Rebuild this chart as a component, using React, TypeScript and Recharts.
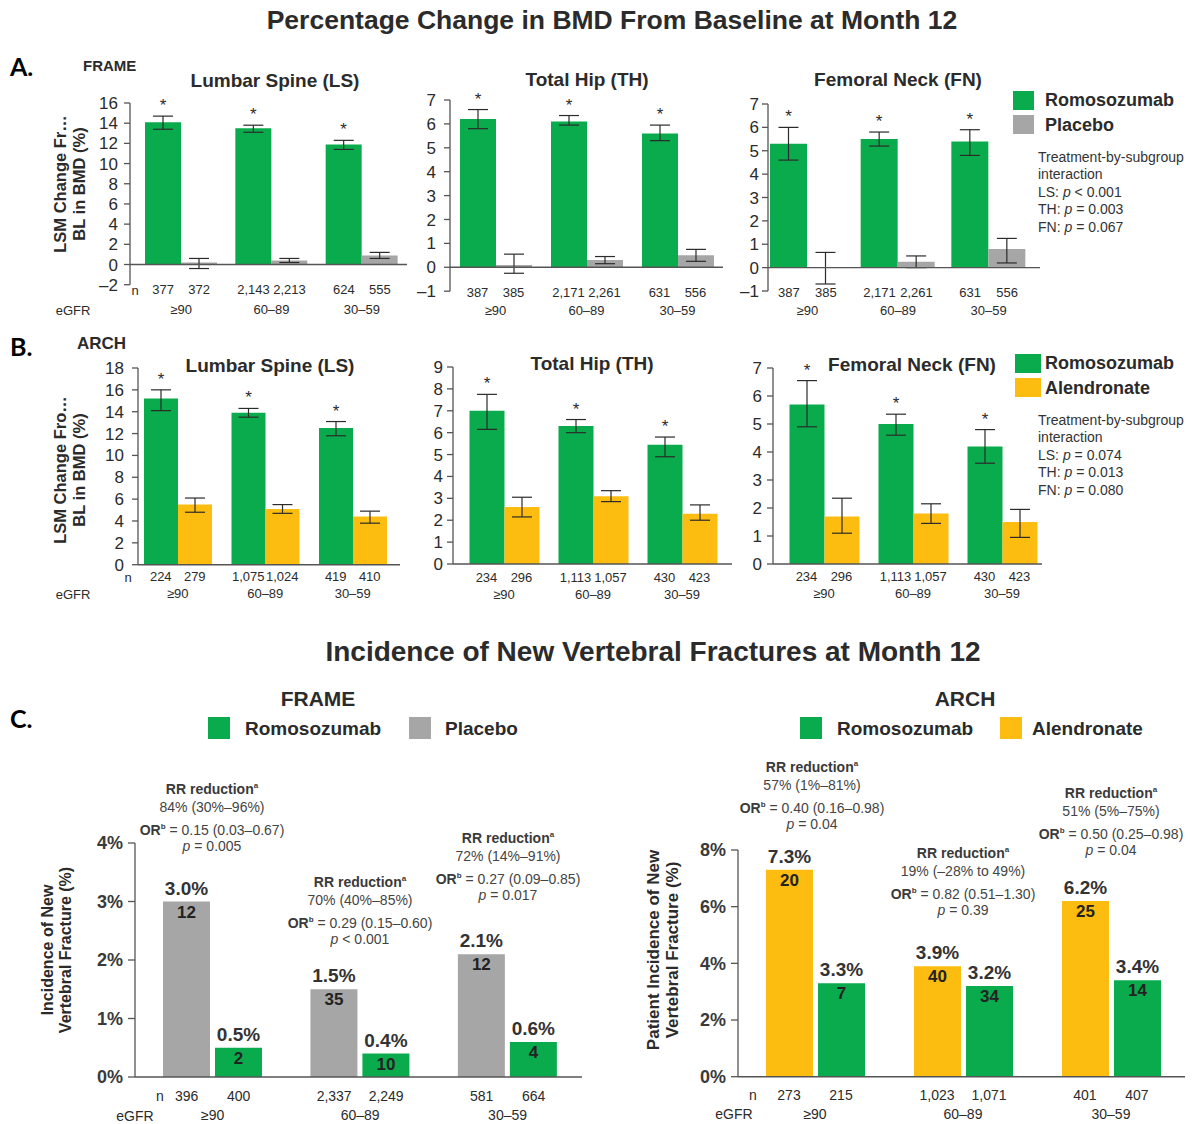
import React from 'react'
import { BarChart, Bar, XAxis, YAxis, ErrorBar, LabelList, ReferenceLine } from 'recharts'

const FONT = 'Arial, "Liberation Sans", Helvetica, sans-serif'
const TAG_FONT = 'Lato, "Open Sans", sans-serif'
const GREEN = '#0aab4c'
const GRAY = '#a6a6a6'
const GOLD = '#fdbd10'
const INK = '#2b2b2b'
const AXIS = '#555'

const egfrGroups = ['≥90', '60–89', '30–59']

// Panel A – FRAME: LSM % change in BMD (bar) with 95% CI [low, high]
const frameLsRomo = [14.1, 13.5, 11.9]
const frameLsRomoCI = [[13.4, 14.7], [13.1, 13.8], [11.4, 12.3]]
const frameLsPbo = [0.2, 0.4, 0.9]
const frameLsPboCI = [[-0.4, 0.6], [0.2, 0.6], [0.6, 1.2]]

const frameThRomo = [6.2, 6.1, 5.6]
const frameThRomoCI = [[5.8, 6.6], [5.95, 6.35], [5.3, 5.95]]
const frameThPbo = [0.1, 0.3, 0.5]
const frameThPboCI = [[-0.25, 0.55], [0.15, 0.45], [0.25, 0.75]]

const frameFnRomo = [5.3, 5.5, 5.4]
const frameFnRomoCI = [[4.6, 6.0], [5.2, 5.8], [4.8, 5.9]]
const frameFnPbo = [0.02, 0.25, 0.8]
const frameFnPboCI = [[-0.7, 0.65], [0.0, 0.5], [0.2, 1.25]]

const frameLsRomoN = ['377', '2,143', '624']
const frameLsPboN = ['372', '2,213', '555']
const frameHipRomoN = ['387', '2,171', '631']
const frameHipPboN = ['385', '2,261', '556']

// Panel B – ARCH
const archLsRomo = [15.2, 13.9, 12.5]
const archLsRomoCI = [[14.1, 16.0], [13.5, 14.3], [11.8, 13.1]]
const archLsAln = [5.5, 5.1, 4.4]
const archLsAlnCI = [[4.8, 6.1], [4.7, 5.5], [3.8, 4.9]]

const archThRomo = [7.0, 6.3, 5.45]
const archThRomoCI = [[6.15, 7.75], [6.0, 6.6], [4.9, 5.8]]
const archThAln = [2.6, 3.1, 2.3]
const archThAlnCI = [[2.15, 3.05], [2.85, 3.35], [2.0, 2.7]]

const archFnRomo = [5.7, 5.0, 4.2]
const archFnRomoCI = [[4.9, 6.55], [4.6, 5.35], [3.6, 4.8]]
const archFnAln = [1.7, 1.8, 1.5]
const archFnAlnCI = [[1.1, 2.35], [1.45, 2.15], [0.95, 1.95]]

const archLsRomoN = ['224', '1,075', '419']
const archLsAlnN = ['279', '1,024', '410']
const archHipRomoN = ['234', '1,113', '430']
const archHipAlnN = ['296', '1,057', '423']

// Panel C – new vertebral fracture incidence (%), patient counts and n
const fxFramePbo = [3.0, 1.5, 2.1]
const fxFramePboCount = [12, 35, 12]
const fxFramePboN = ['396', '2,337', '581']
const fxFrameRomo = [0.5, 0.4, 0.6]
const fxFrameRomoCount = [2, 10, 4]
const fxFrameRomoN = ['400', '2,249', '664']

const fxArchAln = [7.3, 3.9, 6.2]
const fxArchAlnCount = [20, 40, 25]
const fxArchAlnN = ['273', '1,023', '401']
const fxArchRomo = [3.3, 3.2, 3.4]
const fxArchRomoCount = [7, 34, 14]
const fxArchRomoN = ['215', '1,071', '407']

const rrFrame = ['84% (30%–96%)', '70% (40%–85%)', '72% (14%–91%)']
const orFrame = ['0.15 (0.03–0.67)', '0.29 (0.15–0.60)', '0.27 (0.09–0.85)']
const pFrame = ['= 0.005', '< 0.001', '= 0.017']
const rrArch = ['57% (1%–81%)', '19% (–28% to 49%)', '51% (5%–75%)']
const orArch = ['0.40 (0.16–0.98)', '0.82 (0.51–1.30)', '0.50 (0.25–0.98)']
const pArch = ['= 0.04', '= 0.39', '= 0.04']

const ticksFrameLs = [-2, 0, 2, 4, 6, 8, 10, 12, 14, 16]
const ticksFrameHip = [-1, 0, 1, 2, 3, 4, 5, 6, 7]
const ticksArchLs = [0, 2, 4, 6, 8, 10, 12, 14, 16, 18]
const ticksArchTh = [0, 1, 2, 3, 4, 5, 6, 7, 8, 9]
const ticksArchFn = [0, 1, 2, 3, 4, 5, 6, 7]
const ticksFxFrame = [0, 1, 2, 3, 4]
const ticksFxArch = [0, 2, 4, 6, 8]

const dash = (v: number) => (v < 0 ? `–${-v}` : `${v}`)

function Txt({ x, y, size = 14, bold = false, align = 'center', color = INK, font = FONT, children }: any) {
  return (
    <div
      style={{
        position: 'absolute',
        left: x,
        top: y,
        transform: align === 'center' ? 'translate(-50%, -50%)' : 'translateY(-50%)',
        fontSize: size,
        fontWeight: bold ? 700 : 400,
        lineHeight: 1,
        whiteSpace: 'nowrap',
        color,
        fontFamily: font,
      }}
    >
      {children}
    </div>
  )
}

function YLabel({ x, y, lines, size }: { x: number; y: number; lines: string[]; size: number }) {
  return (
    <div
      style={{
        position: 'absolute',
        left: x,
        top: y,
        transform: 'translate(-50%, -50%) rotate(-90deg)',
        fontSize: size,
        fontWeight: 700,
        lineHeight: `${size + 2}px`,
        textAlign: 'center',
        whiteSpace: 'nowrap',
        color: INK,
        fontFamily: FONT,
      }}
    >
      {lines.map(l => (
        <div key={l}>{l}</div>
      ))}
    </div>
  )
}

function Swatch({ x, y, w, h, color }: any) {
  return <div style={{ position: 'absolute', left: x, top: y, width: w, height: h, background: color }} />
}

// n per bar plus eGFR band under each group
const groupTick = (nLeft: string[], nRight: string[], off: number, dN: number, dE: number, size: number) =>
  (props: any) => {
    const { x, y, payload } = props
    const i = egfrGroups.indexOf(payload.value)
    const common = { textAnchor: 'middle' as const, dominantBaseline: 'central' as const, fontSize: size, fontFamily: FONT, fill: INK }
    return (
      <g>
        <text x={x - off} y={y + dN} {...common}>{nLeft[i]}</text>
        <text x={x + off} y={y + dN} {...common}>{nRight[i]}</text>
        <text x={x} y={y + dE} {...common}>{payload.value}</text>
      </g>
    )
  }

function BmdChart(props: any) {
  const { left, right, top, bottom, domain, ticks, romo, romoCI, comp, compCI, romoN, compN, compColor, barSize, pad, nY, eY, yGap = 4 } = props
  const W = right - left + 60
  const H = bottom - top + 90
  const data = egfrGroups.map((g, i) => ({
    group: g,
    romo: romo[i],
    romoErr: [romo[i] - romoCI[i][0], romoCI[i][1] - romo[i]],
    comp: comp[i],
    compErr: [comp[i] - compCI[i][0], compCI[i][1] - comp[i]],
  }))

  const star = (p: any) => {
    const vb = p.viewBox ?? p
    const { x, y, width, height } = vb
    const i = p.index
    const ppu = Number(height) / romo[i]
    const errTop = y - (romoCI[i][1] - romo[i]) * ppu
    return (
      <text x={x + width / 2} y={errTop - 5} textAnchor="middle" fontSize={17} fontFamily={FONT} fill={INK}>
        *
      </text>
    )
  }

  return (
    <div style={{ position: 'absolute', left: left - 50, top: top - 40, width: W, height: H }}>
      <BarChart width={W} height={H} data={data} margin={{ top: 40, right: 10, left: 0, bottom: 0 }} barGap={0}>
        <XAxis
          dataKey="group"
          height={50}
          axisLine={false}
          tickLine={false}
          tickSize={0}
          tickMargin={0}
          interval={0}
          padding={{ left: pad[0], right: pad[1] }}
          tick={groupTick(romoN, compN, barSize / 2, nY - bottom, eY - bottom, 13)}
        />
        <YAxis
          type="number"
          width={50}
          domain={domain}
          ticks={ticks}
          interval={0}
          tickFormatter={dash}
          axisLine={{ stroke: AXIS, strokeWidth: 1.3 }}
          tickLine={{ stroke: AXIS, strokeWidth: 1.3 }}
          tickSize={6}
          tickMargin={yGap}
          tick={{ fill: INK, fontSize: 17, fontFamily: FONT }}
        />
        <Bar dataKey="romo" fill={GREEN} barSize={barSize} isAnimationActive={false}>
          <ErrorBar dataKey="romoErr" width={10} stroke={INK} strokeWidth={1.2} />
          <LabelList dataKey="romo" content={star} />
        </Bar>
        <Bar dataKey="comp" fill={compColor} barSize={barSize} isAnimationActive={false}>
          <ErrorBar dataKey="compErr" width={10} stroke={INK} strokeWidth={1.2} />
        </Bar>
        <ReferenceLine y={0} stroke={AXIS} strokeWidth={1.4} />
      </BarChart>
    </div>
  )
}

function FxChart(props: any) {
  const { left, right, top, bottom, domain, ticks, first, firstCount, firstN, firstColor, second, secondCount, secondN, pad, nY, eY } = props
  const W = right - left + 70
  const H = bottom - top + 95
  const barSize = 47
  const gap = 5
  const data = egfrGroups.map((g, i) => ({
    group: g,
    a: first[i],
    aCount: firstCount[i],
    b: second[i],
    bCount: secondCount[i],
  }))
  const pct = (v: any) => `${Number(v).toFixed(1)}%`
  return (
    <div style={{ position: 'absolute', left: left - 60, top: top - 40, width: W, height: H }}>
      <BarChart width={W} height={H} data={data} margin={{ top: 40, right: 10, left: 0, bottom: 0 }} barGap={gap}>
        <XAxis
          dataKey="group"
          height={55}
          axisLine={false}
          tickLine={false}
          tickSize={0}
          tickMargin={0}
          interval={0}
          padding={{ left: pad[0], right: pad[1] }}
          tick={groupTick(firstN, secondN, (barSize + gap) / 2, nY - bottom, eY - bottom, 14)}
        />
        <YAxis
          type="number"
          width={60}
          domain={domain}
          ticks={ticks}
          interval={0}
          tickFormatter={(v: number) => `${v}%`}
          axisLine={{ stroke: AXIS, strokeWidth: 1.3 }}
          tickLine={{ stroke: AXIS, strokeWidth: 1.3 }}
          tickSize={7}
          tickMargin={5}
          tick={{ fill: '#3a3a3a', fontSize: 18, fontWeight: 700, fontFamily: FONT }}
        />
        <Bar dataKey="a" fill={firstColor} barSize={barSize} isAnimationActive={false}>
          <LabelList dataKey="a" position="top" offset={7} formatter={pct} fill="#333" fontSize={19} fontWeight={700} fontFamily={FONT} />
          <LabelList dataKey="aCount" position="insideTop" offset={4} fill="#222" fontSize={17} fontWeight={700} fontFamily={FONT} />
        </Bar>
        <Bar dataKey="b" fill={GREEN} barSize={barSize} isAnimationActive={false}>
          <LabelList dataKey="b" position="top" offset={7} formatter={pct} fill="#333" fontSize={19} fontWeight={700} fontFamily={FONT} />
          <LabelList dataKey="bCount" position="insideTop" offset={4} fill="#222" fontSize={17} fontWeight={700} fontFamily={FONT} />
        </Bar>
        <ReferenceLine y={0} stroke={AXIS} strokeWidth={1.6} />
      </BarChart>
    </div>
  )
}

function RrNote({ x, y, rr, or, p }: any) {
  return (
    <>
      <Txt x={x} y={y} size={14} bold color="#3a3a3a">
        RR reduction<sup style={{ fontSize: 8 }}>a</sup>
      </Txt>
      <Txt x={x} y={y + 18} size={14} color="#444">{rr}</Txt>
      <Txt x={x} y={y + 41} size={14} color="#444">
        <b style={{ color: '#3a3a3a' }}>
          OR<sup style={{ fontSize: 8 }}>b</sup>
        </b>
        {' = '}
        {or}
      </Txt>
      <Txt x={x} y={y + 57} size={14} color="#444">
        <i>p</i> {p}
      </Txt>
    </>
  )
}

function Interaction({ y, ls, th, fn }: any) {
  const x = 1038
  return (
    <>
      <Txt x={x} y={y} size={14} align="left" color="#333">Treatment-by-subgroup</Txt>
      <Txt x={x} y={y + 17} size={14} align="left" color="#333">interaction</Txt>
      <Txt x={x} y={y + 34.5} size={14} align="left" color="#333">LS: <i>p</i> {ls}</Txt>
      <Txt x={x} y={y + 52} size={14} align="left" color="#333">TH: <i>p</i> {th}</Txt>
      <Txt x={x} y={y + 69.5} size={14} align="left" color="#333">FN: <i>p</i> {fn}</Txt>
    </>
  )
}

export default function App() {
  return (
    <div style={{ position: 'absolute', left: 0, top: 0, width: 1192, height: 1124, background: '#fff', overflow: 'hidden', fontFamily: FONT }}>
      {/* Panel A */}
      <BmdChart left={130} right={407} top={103.3} bottom={285} domain={[-2, 16]} ticks={ticksFrameLs}
        romo={frameLsRomo} romoCI={frameLsRomoCI} comp={frameLsPbo} compCI={frameLsPboCI}
        romoN={frameLsRomoN} compN={frameLsPboN} compColor={GRAY} barSize={36} pad={[6, 0]} nY={290} eY={310} yGap={6} />
      <BmdChart left={450} right={723} top={99.5} bottom={290.7} domain={[-1, 7]} ticks={ticksFrameHip}
        romo={frameThRomo} romoCI={frameThRomoCI} comp={frameThPbo} compCI={frameThPboCI}
        romoN={frameHipRomoN} compN={frameHipPboN} compColor={GRAY} barSize={36} pad={[0, 0]} nY={292} eY={310} yGap={8} />
      <BmdChart left={768} right={1040} top={103.5} bottom={290.5} domain={[-1, 7]} ticks={ticksFrameHip}
        romo={frameFnRomo} romoCI={frameFnRomoCI} comp={frameFnPbo} compCI={frameFnPboCI}
        romoN={frameHipRomoN} compN={frameHipPboN} compColor={GRAY} barSize={37} pad={[-6, 6]} nY={292} eY={310} yGap={3} />

      {/* Panel B */}
      <BmdChart left={138} right={400} top={368.3} bottom={565} domain={[0, 18]} ticks={ticksArchLs}
        romo={archLsRomo} romoCI={archLsRomoCI} comp={archLsAln} compCI={archLsAlnCI}
        romoN={archLsRomoN} compN={archLsAlnN} compColor={GOLD} barSize={34} pad={[-4, 3.5]} nY={577} eY={594} yGap={8} />
      <BmdChart left={453} right={732} top={367} bottom={564} domain={[0, 9]} ticks={ticksArchTh}
        romo={archThRomo} romoCI={archThRomoCI} comp={archThAln} compCI={archThAlnCI}
        romoN={archHipRomoN} compN={archHipAlnN} compColor={GOLD} barSize={35} pad={[6.5, 5.5]} nY={577} eY={594} yGap={4} />
      <BmdChart left={773} right={1042} top={368.3} bottom={564.3} domain={[0, 7]} ticks={ticksArchFn}
        romo={archFnRomo} romoCI={archFnRomoCI} comp={archFnAln} compCI={archFnAlnCI}
        romoN={archHipRomoN} compN={archHipAlnN} compColor={GOLD} barSize={35} pad={[6.5, -4.5]} nY={577} eY={594} yGap={5} />

      {/* Panel C */}
      <FxChart left={135} right={582} top={842.7} bottom={1076.7} domain={[0, 4]} ticks={ticksFxFrame}
        first={fxFramePbo} firstCount={fxFramePboCount} firstN={fxFramePboN} firstColor={GRAY}
        second={fxFrameRomo} secondCount={fxFrameRomoCount} secondN={fxFrameRomoN} pad={[4, 0.7]} nY={1096} eY={1115} />
      <FxChart left={738} right={1185} top={850} bottom={1076.7} domain={[0, 8]} ticks={ticksFxArch}
        first={fxArchAln} firstCount={fxArchAlnCount} firstN={fxArchAlnN} firstColor={GOLD}
        second={fxArchRomo} secondCount={fxArchRomoCount} secondN={fxArchRomoN} pad={[3, 0]} nY={1095} eY={1114} />

      {/* Titles and labels, panels A & B */}
      <Txt x={612} y={20} size={26.5} bold>Percentage Change in BMD From Baseline at Month 12</Txt>
      <Txt x={10} y={66} size={25} bold align="left" font={TAG_FONT} color="#000">A.</Txt>
      <Txt x={83} y={65} size={15} bold align="left">FRAME</Txt>
      <Txt x={275} y={80} size={19} bold>Lumbar Spine (LS)</Txt>
      <Txt x={587} y={79} size={19} bold>Total Hip (TH)</Txt>
      <Txt x={898} y={79} size={19} bold>Femoral Neck (FN)</Txt>
      <YLabel x={69} y={184} size={16.5} lines={['LSM Change Fr…', 'BL in BMD (%)']} />
      <Txt x={135} y={290} size={13}>n</Txt>
      <Txt x={73} y={310} size={13}>eGFR</Txt>

      <Swatch x={1013} y={91} w={21} h={19} color={GREEN} />
      <Txt x={1045} y={100} size={18} bold align="left">Romosozumab</Txt>
      <Swatch x={1013} y={115} w={21} h={19} color={GRAY} />
      <Txt x={1045} y={125} size={18} bold align="left">Placebo</Txt>
      <Interaction y={157} ls="< 0.001" th="= 0.003" fn="= 0.067" />

      <Txt x={10} y={346} size={25} bold align="left" font={TAG_FONT} color="#000">B.</Txt>
      <Txt x={77} y={343} size={17} bold align="left">ARCH</Txt>
      <Txt x={270} y={365} size={19} bold>Lumbar Spine  (LS)</Txt>
      <Txt x={592} y={363} size={19} bold>Total Hip (TH)</Txt>
      <Txt x={912} y={364} size={19} bold>Femoral Neck (FN)</Txt>
      <YLabel x={69} y={470} size={16.5} lines={['LSM Change Fro…', 'BL in BMD (%)']} />
      <Txt x={128} y={577} size={13}>n</Txt>
      <Txt x={73} y={594} size={13}>eGFR</Txt>

      <Swatch x={1015} y={354} w={26} h={19} color={GREEN} />
      <Txt x={1045} y={363} size={18} bold align="left">Romosozumab</Txt>
      <Swatch x={1015} y={378} w={26} h={19} color={GOLD} />
      <Txt x={1045} y={388} size={18} bold align="left">Alendronate</Txt>
      <Interaction y={420} ls="= 0.074" th="= 0.013" fn="= 0.080" />

      {/* Panel C */}
      <Txt x={653} y={652} size={28} bold>Incidence of New Vertebral Fractures at Month 12</Txt>
      <Txt x={10} y={718} size={25} bold align="left" font={TAG_FONT} color="#000">C.</Txt>
      <Txt x={318} y={698} size={21} bold>FRAME</Txt>
      <Swatch x={208} y={717} w={22} h={22} color={GREEN} />
      <Txt x={245} y={728} size={19} bold align="left">Romosozumab</Txt>
      <Swatch x={409} y={717} w={22} h={22} color={GRAY} />
      <Txt x={445} y={728} size={19} bold align="left">Placebo</Txt>

      <Txt x={965} y={698} size={21} bold>ARCH</Txt>
      <Swatch x={800} y={717} w={22} h={22} color={GREEN} />
      <Txt x={837} y={728} size={19} bold align="left">Romosozumab</Txt>
      <Swatch x={1000} y={717} w={22} h={22} color={GOLD} />
      <Txt x={1032} y={728} size={19} bold align="left">Alendronate</Txt>

      <YLabel x={57} y={950} size={16} lines={['Incidence of New', 'Vertebral Fracture (%)']} />
      <YLabel x={663} y={950} size={17} lines={['Patient Incidence of New', 'Vertebral Fracture (%)']} />

      <RrNote x={212} y={789} rr={rrFrame[0]} or={orFrame[0]} p={pFrame[0]} />
      <RrNote x={360} y={882} rr={rrFrame[1]} or={orFrame[1]} p={pFrame[1]} />
      <RrNote x={508} y={838} rr={rrFrame[2]} or={orFrame[2]} p={pFrame[2]} />
      <RrNote x={812} y={767} rr={rrArch[0]} or={orArch[0]} p={pArch[0]} />
      <RrNote x={963} y={853} rr={rrArch[1]} or={orArch[1]} p={pArch[1]} />
      <RrNote x={1111} y={793} rr={rrArch[2]} or={orArch[2]} p={pArch[2]} />

      <Txt x={160} y={1096} size={14}>n</Txt>
      <Txt x={135} y={1116} size={14}>eGFR</Txt>
      <Txt x={753} y={1095} size={14}>n</Txt>
      <Txt x={734} y={1114} size={14}>eGFR</Txt>
    </div>
  )
}
